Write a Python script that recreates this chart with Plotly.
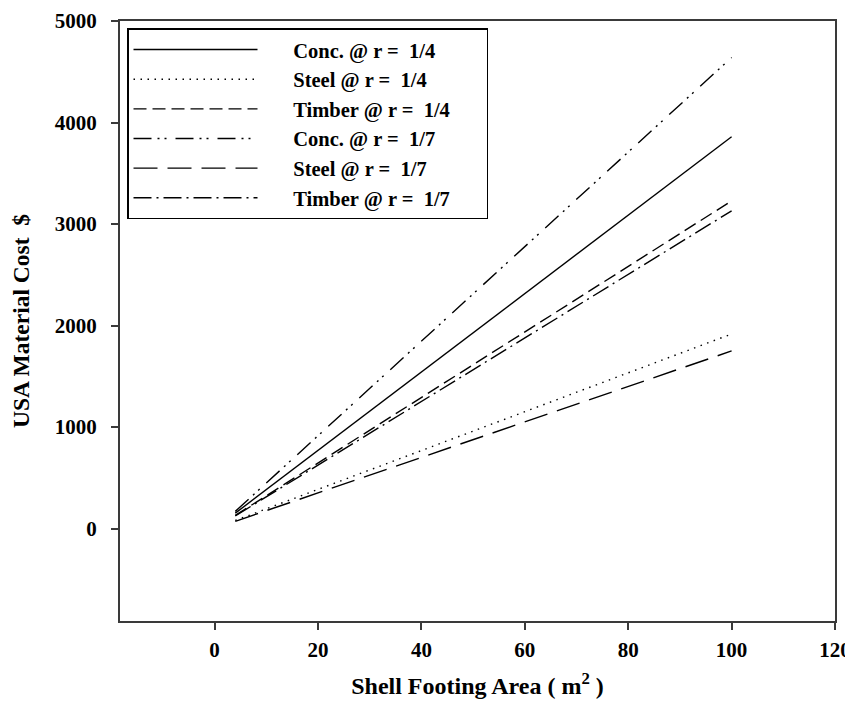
import plotly.graph_objects as go

# Data
area = [4, 100]
conc_r4 = [152, 3860]
steel_r4 = [80, 1917]
timber_r4 = [130, 3228]
conc_r7 = [170, 4640]
steel_r7 = [72, 1750]
timber_r7 = [125, 3130]

series_names = ["Conc. @ r =\u00a0 1/4", "Steel @ r =\u00a0 1/4", "Timber @ r =\u00a0 1/4",
                "Conc. @ r =\u00a0 1/7", "Steel @ r =\u00a0 1/7", "Timber @ r =\u00a0 1/7"]
series_vals = [conc_r4, steel_r4, timber_r4, conc_r7, steel_r7, timber_r7]
dashes = ["solid", "1.5px,5.5px", "13px,6px", "18px,6px,2px,5px,2px,9px", "24px,10px", "18px,5px,2px,5px"]

x_ticks = [0, 20, 40, 60, 80, 100, 120]
y_ticks = [0, 1000, 2000, 3000, 4000, 5000]

FONT = "Liberation Serif"
PAD_L = "\u00a0" * 6
PAD_R = "\u00a0" * 6

fig = go.Figure()
for name, vals, d in zip(series_names, series_vals, dashes):
    fig.add_trace(go.Scatter(x=area, y=vals, mode="lines",
                             name=PAD_L + "<b>" + name + "</b>" + PAD_R,
                             line=dict(color="black", width=1.4, dash=d)))

axis_common = dict(showline=True, linecolor="#3a3a3a", linewidth=2, mirror=True,
                   ticks="outside", ticklen=7, tickwidth=1.5, tickcolor="#3a3a3a",
                   showgrid=False, zeroline=False, automargin=False,
                   ticklabeloverflow="allow",
                   tickfont=dict(family=FONT, size=21, color="black", weight="bold"))

fig.update_layout(
    width=837, height=692,
    margin=dict(l=112, r=10, t=13, b=79),
    paper_bgcolor="white", plot_bgcolor="white",
    font=dict(family=FONT, color="black"),
    xaxis=dict(range=[-18.3, 120], tickvals=x_ticks,
               title=dict(text="<b>Shell Footing Area ( m<sup>2</sup> )</b>",
                          font=dict(family=FONT, size=24, color="black"), standoff=16),
               ticklabelstandoff=2, **axis_common),
    yaxis=dict(range=[-910, 5000], tickvals=y_ticks,
               title=dict(text="<b>USA Material Cost\u00a0 $</b>",
                          font=dict(family=FONT, size=23.5, color="black"), standoff=20),
               ticklabelstandoff=10, **axis_common),
    legend=dict(x=0.0098, y=0.988, xanchor="left", yanchor="top",
                bgcolor="white", bordercolor="black", borderwidth=1.5,
                itemwidth=124, tracegroupgap=0,
                font=dict(family=FONT, size=20.5, color="black")),
    showlegend=True,
)

fig.write_html("out.html")
